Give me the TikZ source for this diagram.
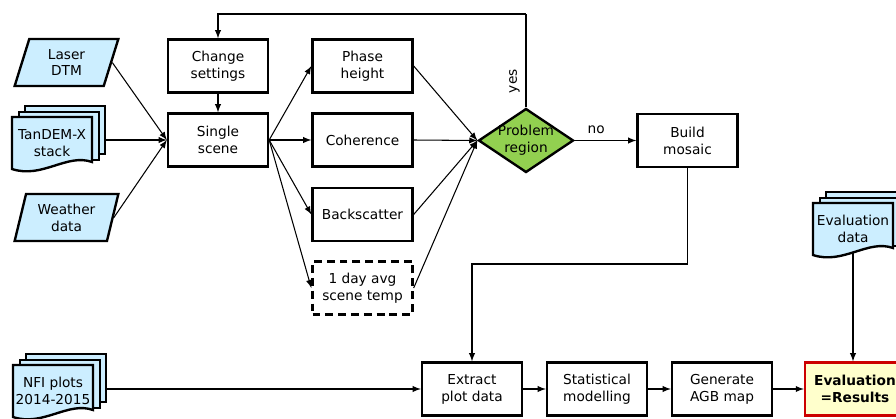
\documentclass[tikz,border=0pt]{standalone}
\usepackage{fontspec}
\setmainfont{DejaVu Sans}
\usetikzlibrary{arrows}
\usetikzlibrary{shapes.geometric}
\definecolor{docblue}{HTML}{CCEEFF}
\definecolor{probgreen}{HTML}{92D050}
\definecolor{resyellow}{HTML}{FFFFCC}
\definecolor{resred}{HTML}{CC0000}
\tikzset{>=latex}
\tikzset{
  stepbox/.style = {draw, line width = 1.35pt, minimum width = 2.0cm, minimum height = 1.06cm, align = center, inner sep = 1pt},
  tempbox/.style = {stepbox, dash pattern = on 4.5pt off 2.8pt},
  inbox/.style = {trapezium, trapezium left angle = 76, trapezium right angle = 104, trapezium stretches = true,
                  draw, fill = docblue, line width = 1.35pt, minimum width = 2.08cm, minimum height = 0.94cm, align = center},
  sheet/.style = {draw, fill = docblue, line width = 1.35pt, minimum width = 1.6cm, minimum height = 0.96cm, inner sep = 0pt},
  decision/.style = {diamond, draw, fill = probgreen, line width = 1.35pt, minimum width = 1.9cm, minimum height = 1.28cm, inner sep = 0pt},
  result/.style = {stepbox, draw = resred, fill = resyellow, font = \fontsize{7.8}{9.6}\selectfont\bfseries},
  link/.style = {->, line width = 0.6pt}
}

% stack of documents: name, left x, top y of the front sheet, text
\newcommand{\docstack}[4]{%
  \node[sheet, anchor = north west] (#1-back) at (#2+12, #3-12) {};
  \node[sheet, anchor = north west] at (#2+6, #3-6) {};
  \filldraw[fill = docblue, line width = 1.35pt] (#2, #3) -- (#2+80, #3) -- (#2+80, #3+45)
    .. controls (#2+55, #3+36) and (#2+30, #3+62) .. (#2, #3+52) -- cycle;
  \node[align = center, minimum width = 1.6cm, minimum height = 0.94cm, inner sep = 0pt] (#1) at (#2+40, #3+26) {#4};
}

\begin{document}
\begin{tikzpicture}[x = 0.02cm, y = -0.02cm, font = \fontsize{7.8}{9.6}\selectfont]

\useasboundingbox (0,0) rectangle (896, 419);

% inputs
\node[inbox] (laser) at (66.5, 62.5) {Laser\\DTM};
\docstack{tandem}{12}{117}{TanDEM-X\\stack};
\node[inbox] (weather) at (66.5, 217.5) {Weather\\data};

% scene processing
\node[stepbox] (change) at (218, 66) {Change\\settings};
\node[stepbox] (single) at (218, 140) {Single\\scene};

\node[stepbox] (phase) at (362.5, 66) {Phase\\height};
\node[stepbox] (coher) at (362.5, 140) {Coherence};
\node[stepbox] (backsc) at (362.5, 214.5) {Backscatter};
\node[tempbox] (temp) at (362.5, 288) {1 day avg\\scene temp};

\node[decision, label = {[align = center]center:{Problem\\region}}] (prob) at (526, 140.5) {};
\node[stepbox] (mosaic) at (687.5, 140.5) {Build\\mosaic};

% modelling chain
\docstack{nfi}{13}{365}{NFI plots\\2014-2015};
\node[stepbox] (extract) at (472, 389) {Extract\\plot data};
\node[stepbox] (stat) at (597, 389) {Statistical\\modelling};
\node[stepbox] (agb) at (722, 389) {Generate\\AGB map};
\node[result] (results) at (855, 389) {Evaluation\\=Results};
\docstack{evaldata}{813}{203}{Evaluation\\data};

\coordinate (top) at (0, 14);
\coordinate (turn) at (0, 264);

% connectors
\draw[link] (laser.east) -- (single.west);
\draw[link] (tandem-back.east |- single) -- (single.west);
\draw[link] (weather.east) -- (single.west);
\draw[link] (change) -- (single);

\foreach \n in {phase, coher, backsc, temp}
{
  \draw[link] (single.east) -- (\n.west);
  \draw[link] (\n.east) -- (prob.west);
}

\draw[line width = 0.6pt] (prob.north) -- node[pos = 0.28, rotate = 90, anchor = south] {yes} (prob.north |- top);
\draw[link] (prob.north |- top) -| (change.north);
\draw[link] (prob.east) -- node[pos = 0.35, above] {no} (mosaic.west);
\draw[link] (mosaic.south) -- (mosaic.south |- turn) -| (extract.north);

\draw[link] (nfi-back.east |- extract) -- (extract.west);
\draw[link] (extract) -- (stat);
\draw[link] (stat) -- (agb);
\draw[link] (agb) -- (results);
\draw[link] (evaldata.south) -- (evaldata.south |- results.north);

\end{tikzpicture}
\end{document}
